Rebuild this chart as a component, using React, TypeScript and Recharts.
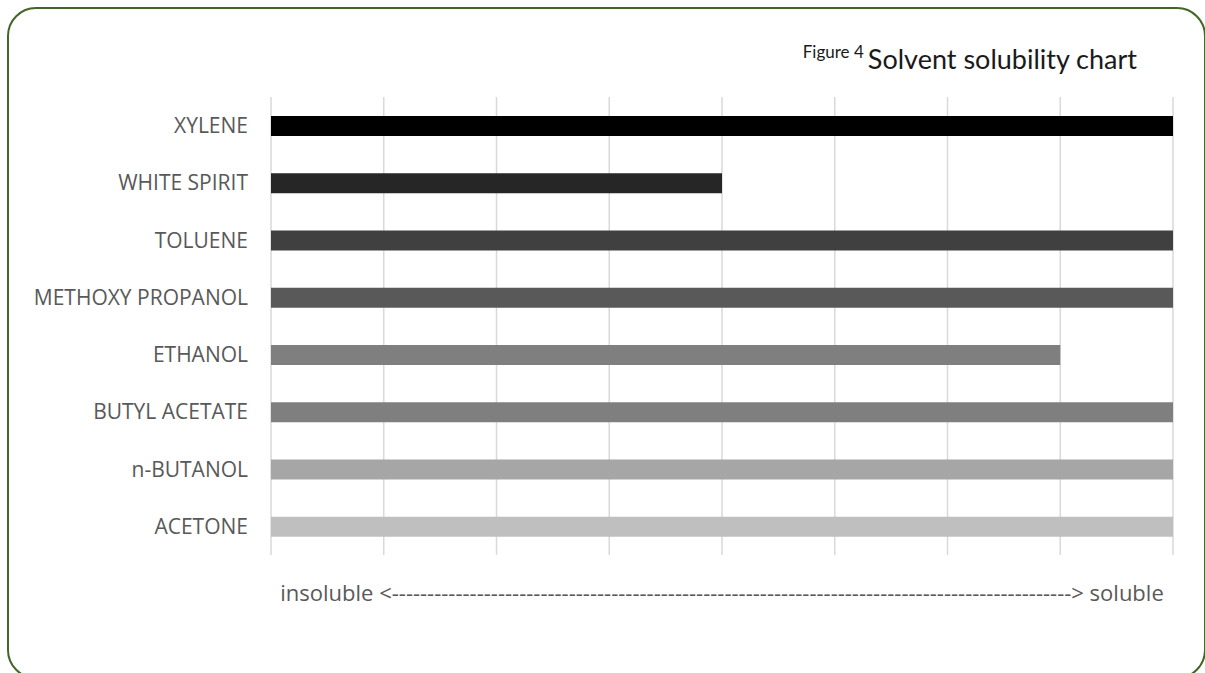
import { Bar, BarChart, CartesianGrid, Cell, Label, XAxis, YAxis } from "recharts"

// Solvent solubility on an 8-step scale, from insoluble (0) to soluble (8).
const solvents = [
  "XYLENE",
  "WHITE SPIRIT",
  "TOLUENE",
  "METHOXY PROPANOL",
  "ETHANOL",
  "BUTYL ACETATE",
  "n-BUTANOL",
  "ACETONE",
]
const solubility = [8, 4, 8, 8, 7, 8, 8, 8]
const barColors = ["#000000", "#262626", "#404040", "#595959", "#7f7f7f", "#7f7f7f", "#a6a6a6", "#bfbfbf"]
const scaleTicks = [0, 1, 2, 3, 4, 5, 6, 7, 8]
const axisCaption = "insoluble <" + "-".repeat(96) + "> soluble"

const data = solvents.map((name, i) => ({ name, value: solubility[i] }))

const labelFont = "'Open Sans', 'Noto Sans', sans-serif"

export default function App() {
  return (
    <div style={{ position: "absolute", left: 0, top: 0, width: 1205, height: 673, background: "#fff", overflow: "hidden" }}>
      <div
        style={{
          position: "absolute",
          left: 7,
          top: 7,
          width: 1199,
          height: 672,
          border: "2px solid #436527",
          borderRadius: 29,
          boxSizing: "border-box",
        }}
      />
      <div
        style={{
          position: "absolute",
          right: 68,
          top: 42,
          fontFamily: "Lato, sans-serif",
          color: "#1a1a1a",
          whiteSpace: "nowrap",
          lineHeight: "34px",
        }}
      >
        <span style={{ fontSize: 17, position: "relative", top: -11 }}>Figure 4</span>{" "}
        <span style={{ fontSize: 27 }}>Solvent solubility chart</span>
      </div>
      <BarChart
        width={1205}
        height={673}
        data={data}
        layout="vertical"
        margin={{ top: 97, right: 32, bottom: 0, left: 0 }}
        style={{ position: "absolute", left: 0, top: 0 }}
      >
        <CartesianGrid horizontal={false} stroke="#d9d9d9" strokeWidth={1.5} syncWithTicks />
        <XAxis
          type="number"
          domain={[0, 8]}
          ticks={scaleTicks}
          tickCount={9}
          interval={0}
          tick={() => <g />}
          tickLine={false}
          axisLine={false}
          height={118}
        >
          <Label
            value={axisCaption}
            position="insideTop"
            offset={30}
            style={{ fontFamily: labelFont, fontSize: 22, fill: "#595959" }}
          />
        </XAxis>
        <YAxis
          type="category"
          dataKey="name"
          width={271}
          tickLine={false}
          axisLine={false}
          tickSize={0}
          tickMargin={23}
          tick={{ fontFamily: labelFont, fontSize: 21, fill: "#595959" }}
        />
        <Bar dataKey="value" barSize={20} isAnimationActive={false}>
          {data.map((d, i) => (
            <Cell key={d.name} fill={barColors[i]} />
          ))}
        </Bar>
      </BarChart>
    </div>
  )
}
